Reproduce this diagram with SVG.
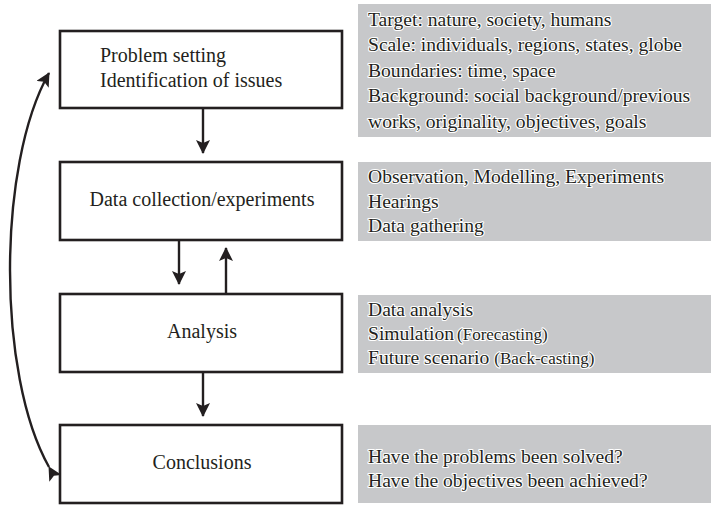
<svg xmlns="http://www.w3.org/2000/svg" width="711" height="506" viewBox="0 0 711 506">
  <style>
    .box { fill: #fff; stroke: #231f20; stroke-width: 2.6; }
    .panel { fill: #c7c8ca; stroke: none; }
    .lbl { font-family: "Liberation Serif", "Times New Roman", serif; font-size: 20px; fill: #231f20; }
    .mid { text-anchor: middle; }
    .note { font-family: "Liberation Serif", "Times New Roman", serif; font-size: 19.6px; fill: #231f20; stroke: #fff; stroke-width: 2.2; paint-order: stroke; stroke-linejoin: round; }
    .small { font-size: 17px; }
    .edge { fill: none; stroke: #231f20; stroke-width: 2.4; }
  </style>
  <defs>
    <marker id="head" viewBox="0 0 14 14" refX="13" refY="7" markerWidth="14" markerHeight="14" markerUnits="userSpaceOnUse" orient="auto">
      <path d="M0,0 L14,7 L0,14 L3,7 Z" fill="#231f20"/>
    </marker>
  </defs>

  <rect width="711" height="506" fill="#fff"/>

  <!-- side notes -->
  <g id="note-problem">
    <rect class="panel" x="358" y="4" width="353" height="133"/>
    <text class="note" x="368" y="26">Target: nature, society, humans</text>
    <text class="note" x="368" y="51">Scale: individuals, regions, states, globe</text>
    <text class="note" x="368" y="77">Boundaries: time, space</text>
    <text class="note" x="368" y="102">Background: social background/previous</text>
    <text class="note" x="368" y="128">works, originality, objectives, goals</text>
  </g>
  <g id="note-data">
    <rect class="panel" x="358" y="162" width="353" height="79"/>
    <text class="note" x="368" y="183">Observation, Modelling, Experiments</text>
    <text class="note" x="368" y="208">Hearings</text>
    <text class="note" x="368" y="232">Data gathering</text>
  </g>
  <g id="note-analysis">
    <rect class="panel" x="358" y="295" width="353" height="78"/>
    <text class="note" x="368" y="316">Data analysis</text>
    <text class="note" x="368" y="340">Simulation<tspan class="small" dx="3">(Forecasting)</tspan></text>
    <text class="note" x="368" y="364">Future scenario<tspan class="small" dx="5">(Back-casting)</tspan></text>
  </g>
  <g id="note-conclusions">
    <rect class="panel" x="358" y="425" width="353" height="78"/>
    <text class="note" x="368" y="463">Have the problems been solved?</text>
    <text class="note" x="368" y="487">Have the objectives been achieved?</text>
  </g>

  <!-- process steps -->
  <g id="step-problem">
    <rect class="box" x="60" y="31" width="282" height="77"/>
    <text class="lbl" x="100" y="62">Problem setting</text>
    <text class="lbl" x="100" y="87">Identification of issues</text>
  </g>
  <g id="step-data">
    <rect class="box" x="60" y="162" width="282" height="78"/>
    <text class="lbl mid" x="202" y="206">Data collection/experiments</text>
  </g>
  <g id="step-analysis">
    <rect class="box" x="60" y="294" width="282" height="78"/>
    <text class="lbl mid" x="202" y="338">Analysis</text>
  </g>
  <g id="step-conclusions">
    <rect class="box" x="60" y="425" width="282" height="78"/>
    <text class="lbl mid" x="202" y="469">Conclusions</text>
  </g>

  <!-- connectors -->
  <g id="connectors">
    <line class="edge" x1="203" y1="108" x2="203" y2="153" marker-end="url(#head)"/>
    <line class="edge" x1="179" y1="240" x2="179" y2="284" marker-end="url(#head)"/>
    <line class="edge" x1="226" y1="294" x2="226" y2="248" marker-end="url(#head)"/>
    <line class="edge" x1="203" y1="372" x2="203" y2="416" marker-end="url(#head)"/>
    <path class="edge" d="M49,467 C-3,375 -3,165 49,73" marker-start="url(#head)" marker-end="url(#head)"/>
  </g>
</svg>
